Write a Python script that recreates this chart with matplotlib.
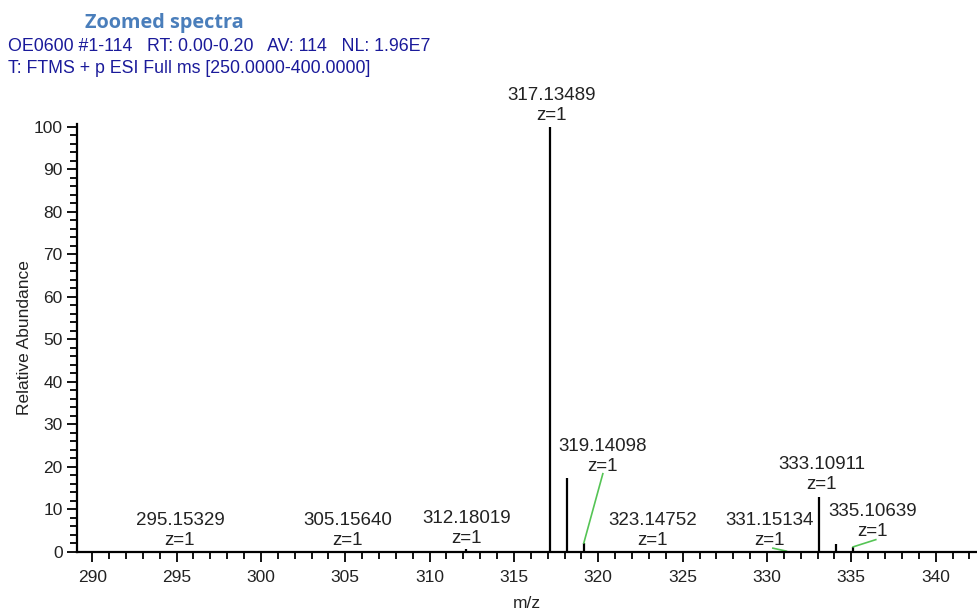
import matplotlib
matplotlib.use("Agg")
import matplotlib.pyplot as plt
from matplotlib.ticker import MultipleLocator

# centroid peaks (m/z, relative abundance)
peak_mz = [295.15329, 305.15640, 312.18019, 316.30, 317.13489, 318.138,
           319.14098, 323.14752, 331.15134, 333.10911, 334.113, 335.10639]
peak_int = [0.1, 0.2, 0.6, 0.3, 100.0, 17.5, 2.1, 0.1, 0.2, 12.9, 1.9, 1.2]

# labelled peaks
label_mz = [295.15329, 305.15640, 312.18019, 317.13489, 319.14098,
            323.14752, 331.15134, 333.10911, 335.10639]
label_z = [1, 1, 1, 1, 1, 1, 1, 1, 1]

# where each label sits (x centre, y of the m/z line) and optional leader
label_pos = [(295.2, 7.3), (305.16, 7.3), (312.2, 7.9), (317.25, 107.4),
             (320.27, 24.8), (323.2, 7.3), (330.15, 7.3), (333.25, 20.6),
             (336.27, 9.6)]
leaders = {319.14098: (320.27, 18.4), 331.15134: (330.35, 0.9),
           335.10639: (336.45, 2.9)}

fig = plt.figure(figsize=(9.77, 6.10), dpi=100)
ax = fig.add_axes([0.0785, 0.0951, 0.9215, 0.7016])

ax.vlines(peak_mz, 0, peak_int, color="black", lw=1.6)
lookup = dict(zip(peak_mz, peak_int))

for mz, z, (tx, ty) in zip(label_mz, label_z, label_pos):
    ax.text(tx, ty, f"{mz:.5f}", ha="center", va="center", fontsize=13.5,
            family="Liberation Sans", color="#222222", clip_on=False)
    ax.text(tx, ty - 4.7, f"z={z}", ha="center", va="center", fontsize=13.5,
            family="Liberation Sans", color="#222222", clip_on=False)
    if mz in leaders:
        lx, ly = leaders[mz]
        ax.plot([lx, mz], [ly, lookup[mz]], color="#55c455", lw=1.2)

ax.set_xlim(289.08, 342.45)
ax.set_ylim(0, 100.6)
ax.spines["top"].set_visible(False)
ax.spines["right"].set_visible(False)
ax.spines["left"].set_linewidth(1.6)
ax.spines["bottom"].set_linewidth(1.6)

ax.xaxis.set_major_locator(MultipleLocator(5))
ax.xaxis.set_minor_locator(MultipleLocator(1))
ax.yaxis.set_major_locator(MultipleLocator(10))
ax.yaxis.set_minor_locator(MultipleLocator(2))
ax.tick_params(which="major", length=7, width=1.3, labelsize=12.5, pad=3)
ax.tick_params(axis="x", which="major", pad=6)
ax.tick_params(which="minor", length=5, width=1.3)
for lab in ax.get_xticklabels() + ax.get_yticklabels():
    lab.set_family("Liberation Sans")
    lab.set_color("#222222")

ax.set_xlabel("m/z", family="Liberation Sans", fontsize=12.5, color="#222222",
              labelpad=8)
ax.set_ylabel("Relative Abundance", family="Liberation Sans", fontsize=12.5,
              color="#222222", labelpad=1)

fig.text(0.087, 0.963, "Zoomed spectra", family="Open Sans", weight="bold",
         fontsize=14.3, color="#4a7ebb", va="center")
fig.text(0.008, 0.924, "OE0600 #1-114   RT: 0.00-0.20   AV: 114   NL: 1.96E7",
         family="Liberation Sans", fontsize=12.8, color="#1a1a9a", va="center")
fig.text(0.008, 0.887, "T: FTMS + p ESI Full ms [250.0000-400.0000]",
         family="Liberation Sans", fontsize=12.8, color="#1a1a9a", va="center")

fig.savefig("out.png", dpi=100)
